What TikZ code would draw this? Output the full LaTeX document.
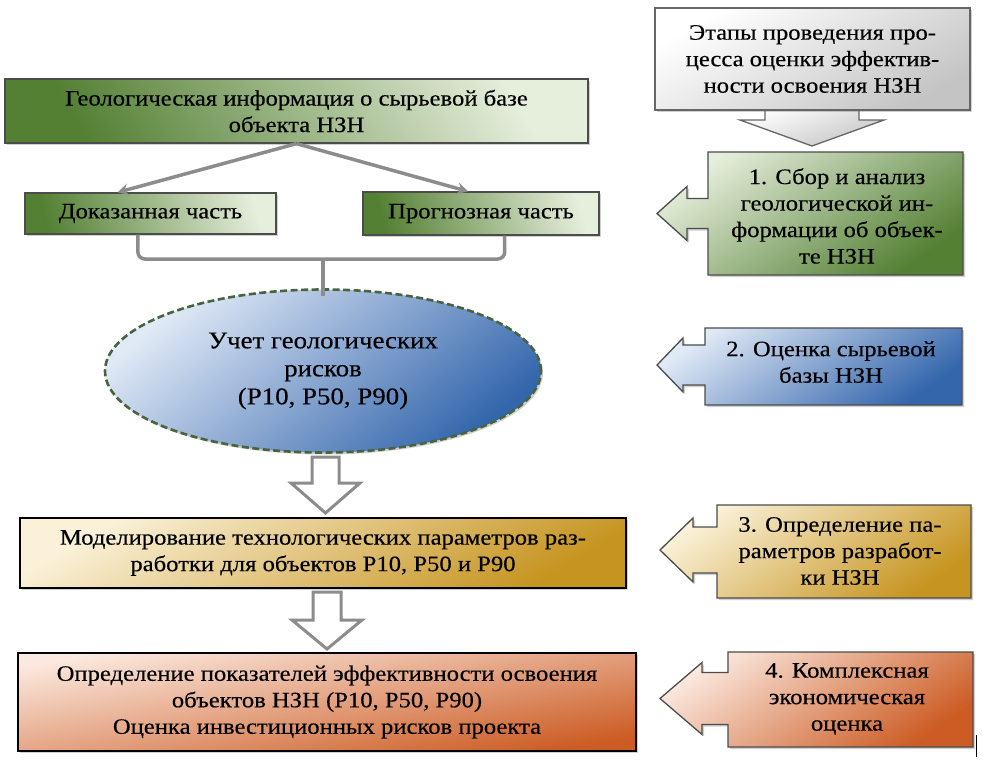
\documentclass[tikz,border=0pt]{standalone}
\usepackage{fontspec}
\setmainfont{Liberation Serif}
\newfontfamily\cyrserif{Liberation Serif}[FakeStretch=1.12,FakeBold=0.3]
\usetikzlibrary{shapes.geometric,shadows,calc,arrows.meta}
\definecolor{grD}{RGB}{84,128,52}
\definecolor{grL}{RGB}{230,238,220}
\definecolor{blD}{RGB}{52,102,172}
\definecolor{blL}{RGB}{224,233,246}
\definecolor{goD}{RGB}{198,148,32}
\definecolor{goL}{RGB}{250,241,216}
\definecolor{orD}{RGB}{204,92,36}
\definecolor{orL}{RGB}{251,232,222}
\definecolor{gyD}{RGB}{196,196,196}
\definecolor{conn}{RGB}{140,140,140}
\definecolor{dashgr}{RGB}{72,100,62}
\begin{document}
\begin{tikzpicture}[x=1pt,y=-1pt,
  txt/.style={font=\cyrserif\fontsize{22}{26.5}\selectfont, align=center, text=black},
  shad/.style={drop shadow={shadow xshift=2pt,shadow yshift=-2pt,opacity=0.3,fill=black!60}},
  greenbox/.style={txt, shad, draw=black!70, line width=1.3pt, inner sep=0pt,
     top color=grL, bottom color=grD, shading angle=-60},
  greenbox2/.style={txt, shad, draw=black!70, line width=1.3pt, inner sep=0pt,
     top color=grL, bottom color=grD, shading angle=-75},
  stagebox/.style={txt, draw=black, line width=2.2pt, inner sep=0pt, shad},
  callout/.style={draw=black!70, line width=1.3pt, shad},
  bracket/.style={draw=conn, line width=3.5pt, rounded corners=7pt},
  connarrow/.style={draw=conn, line width=3.5pt, -{Stealth[length=11pt,width=12pt,inset=4pt]}},
  hollow/.style={draw=conn, line width=3pt, fill=white, line join=miter}
]
\useasboundingbox[fill=white] (0,0) rectangle (983,760);

% ---------- left column ----------
\node[greenbox, minimum width=583pt, minimum height=64pt] (geo) at (296.5,111)
  {Геологическая информация о сырьевой базе\\объекта НЗН};
\node[greenbox2, minimum width=251pt, minimum height=41pt] (dok) at (150.5,213.5)
  {Доказанная часть};
\node[greenbox2, minimum width=236pt, minimum height=43pt] (prog) at (481,213.5)
  {Прогнозная часть};

\coordinate (dokt) at ($(dok.north west)!0.37!(dok.north east)$);
\coordinate (progt) at ($(prog.north west)!0.445!(prog.north east)$);
\draw[connarrow] (geo.south) -- (dokt);
\draw[connarrow] (geo.south) -- (progt);

\node[ellipse, txt, font=\cyrserif\fontsize{24}{28}\selectfont,
   draw=dashgr, line width=2.6pt, dash pattern=on 7pt off 3.5pt,
   top color=blL, bottom color=blD, shading angle=40, shad,
   minimum width=436pt, minimum height=163pt, inner sep=0pt] (ell) at (323,371)
  {Учет геологических\\рисков\\(P10, P50, P90)};

\coordinate (bl) at ($(dok.south west)!0.45!(dok.south east)$);
\coordinate (br) at ($(prog.south west)!0.60!(prog.south east)$);
\coordinate (bm) at (323,259);
\draw[bracket] (bl) -- (bl |- bm) -- (br |- bm) -- (br);
\draw[draw=conn, line width=3.5pt] (bm) -- ($(ell.north)+(0,8)$);

\node[stagebox, minimum width=606pt, minimum height=70pt,
   top color=goL, bottom color=goD, shading angle=30] (model) at (323,553)
  {Моделирование технологических параметров раз-\\работки для объектов P10, P50 и P90};
\node[stagebox, minimum width=618pt, minimum height=98pt,
   top color=orL, bottom color=orD, shading angle=10] (eff) at (327,702)
  {Определение показателей эффективности освоения\\объектов НЗН (P10, P50, P90)\\Оценка инвестиционных рисков проекта};

% hollow arrows
\draw[hollow] (312,457) -- (339,457) -- (339,483) -- (360,483) -- (325.5,513)
   -- (291,483) -- (312,483) -- cycle;
\draw[hollow] (313,592) -- (341,592) -- (341,620) -- (362,620) -- (327,649)
   -- (292,620) -- (313,620) -- cycle;

% ---------- right column ----------
\path[draw=black!60, line width=1.3pt, top color=white, bottom color=gyD, shading angle=20]
  (765,108) -- (765,120) -- (740,120) -- (812,146) -- (884,120) -- (859,120) -- (859,108) -- cycle;
\node[txt, shad, draw=black!60, line width=1.3pt, inner sep=0pt,
   top color=white, bottom color=gyD, shading angle=30,
   minimum width=315pt, minimum height=102pt] (head) at (812.5,59)
  {Этапы проведения про-\\цесса оценки эффектив-\\ности освоения НЗН};

\path[callout, top color=grL, bottom color=grD, shading angle=35]
  (708,152) -- (963,152) -- (963,275) -- (708,275) -- (708,228.5) -- (687,228.5)
  -- (687,240.5) -- (657,213.5) -- (687,186.5) -- (687,198.5) -- (708,198.5) -- cycle;
\node[txt] (s1) at (837,216) {1. Сбор и анализ\\геологической ин-\\формации об объек-\\те НЗН};

\path[callout, top color=blL, bottom color=blD, shading angle=35]
  (705,328) -- (962,328) -- (962,405) -- (705,405) -- (705,385) -- (683,385)
  -- (683,392) -- (657,365) -- (683,338) -- (683,345) -- (705,345) -- cycle;
\node[txt] (s2) at (831,362) {2. Оценка сырьевой\\базы НЗН};

\path[callout, top color=goL, bottom color=goD, shading angle=35]
  (717,505) -- (971,505) -- (971,598) -- (717,598) -- (717,573) -- (693,573)
  -- (693,582) -- (660,550) -- (693,518) -- (693,527) -- (717,527) -- cycle;
\node[txt] (s3) at (840,551) {3. Определение па-\\раметров разработ-\\ки НЗН};

\path[callout, top color=orL, bottom color=orD, shading angle=35]
  (728,652) -- (973,652) -- (973,747) -- (728,747) -- (728,724.5) -- (702,724.5)
  -- (702,734.5) -- (660,698.5) -- (702,662.5) -- (702,672.5) -- (728,672.5) -- cycle;
\node[txt] (s4) at (847,699) {4. Комплексная\\экономическая\\оценка};

\draw[black, line width=1pt] (976,735) -- (976,757);
\end{tikzpicture}
\end{document}
